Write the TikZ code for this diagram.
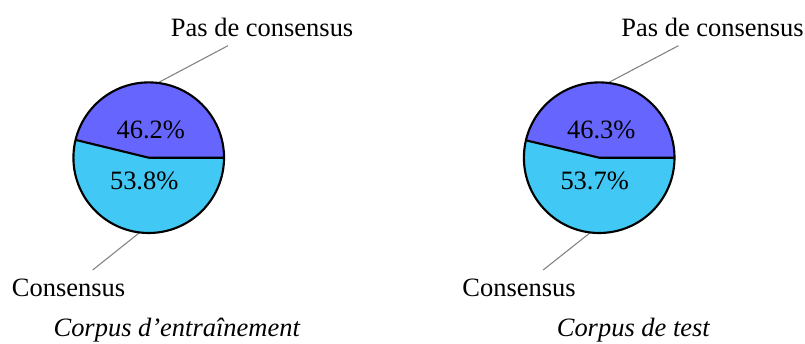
\documentclass[tikz,border=0pt]{standalone}
\usepackage{fontspec}
\setmainfont{Liberation Serif}
\definecolor{pascol}{RGB}{102,102,255}
\definecolor{conscol}{RGB}{66,200,244}

\begin{document}
\begin{tikzpicture}[thick]
\tikzset{pinline/.style={gray,thin},
  slice/.style={draw=black,thick}}
\useasboundingbox (0,0) rectangle (10.69,4.555);
\foreach \cx/\a/\b/\capx/\cap/\n in {1.975/46.2/53.8/0.372/{Corpus d'entraînement}/L,
                                    7.957/46.3/53.7/0.453/{Corpus de test}/R}{
\begin{scope}[shift={(\cx,2.461)}]
\pgfmathsetmacro\ang{3.6*\a}
\pgfmathsetmacro\mA{1.8*\a}
\pgfmathsetmacro\mB{\ang+1.8*\b}
\coordinate (O\n) at (0,0);
\coordinate (pa\n) at (\mA:1);
\coordinate (pb\n) at (\mB:1);
\coordinate (ea\n) at (1.052,1.487);
\coordinate (eb\n) at (-0.744,-1.491);
\draw[pinline] (pa\n)--(ea\n) (pb\n)--(eb\n);
\fill[pascol] (O\n) -- (0:1) arc (0:\ang:1) -- cycle;
\fill[conscol] (O\n) -- (\ang:1) arc (\ang:360:1) -- cycle;
\draw[slice] (O\n) circle (1) (1,0)--(O\n)--(\ang:1);
\node[anchor=base] (va\n) at (0.028,0.258) {\a\%};
\node[anchor=base] (vb\n) at (-0.06,-0.42) {\b\%};
\node[anchor=base] (la\n) at (1.506,1.607) {Pas de consensus};
\node[anchor=base] (lb\n) at (-1.064,-1.846) {Consensus};
\node[anchor=base] (cap\n) at (\capx,-2.377) {\itshape \cap};
\end{scope}
}
\end{tikzpicture}
\end{document}
